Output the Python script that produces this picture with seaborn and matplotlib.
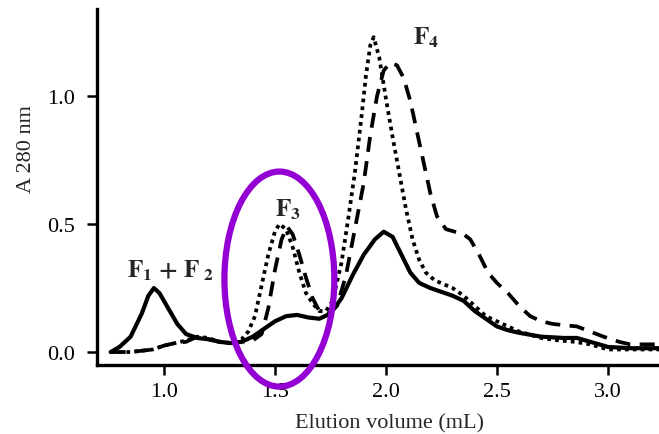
import matplotlib
matplotlib.use("Agg")
import matplotlib.pyplot as plt
from matplotlib.patches import Ellipse
import seaborn as sns

# Elution profiles (x in mL, y = A280)
solid_x = [0.76, 0.80, 0.85, 0.90, 0.93, 0.955, 0.98, 1.02, 1.06, 1.10, 1.15, 1.20,
           1.25, 1.30, 1.35, 1.40, 1.45, 1.50, 1.55, 1.60, 1.65, 1.70, 1.75, 1.80,
           1.85, 1.90, 1.95, 1.99, 2.03, 2.07, 2.11, 2.15, 2.20, 2.25, 2.30, 2.35,
           2.40, 2.45, 2.50, 2.55, 2.60, 2.70, 2.80, 2.86, 2.92, 3.00, 3.10, 3.23]
solid_y = [0.00, 0.02, 0.06, 0.15, 0.22, 0.25, 0.23, 0.17, 0.11, 0.07, 0.055, 0.05,
           0.04, 0.035, 0.04, 0.06, 0.09, 0.12, 0.14, 0.145, 0.135, 0.13, 0.15, 0.21,
           0.30, 0.38, 0.44, 0.47, 0.45, 0.38, 0.31, 0.27, 0.25, 0.235, 0.22, 0.20,
           0.16, 0.13, 0.10, 0.085, 0.075, 0.06, 0.055, 0.055, 0.04, 0.02, 0.015, 0.015]

dotted_x = [0.76, 0.85, 0.95, 1.00, 1.05, 1.10, 1.15, 1.20, 1.25, 1.30, 1.35, 1.38,
            1.41, 1.44, 1.47, 1.50, 1.52, 1.55, 1.58, 1.61, 1.64, 1.67, 1.70, 1.73,
            1.76, 1.80, 1.83, 1.86, 1.89, 1.91, 1.93, 1.945, 1.97, 2.00, 2.03, 2.06,
            2.09, 2.12, 2.15, 2.18, 2.22, 2.26, 2.30, 2.35, 2.40, 2.45, 2.50, 2.55,
            2.60, 2.70, 2.78, 2.85, 2.92, 3.00, 3.10, 3.23]
dotted_y = [0.00, 0.00, 0.01, 0.025, 0.035, 0.045, 0.06, 0.055, 0.04, 0.035, 0.05, 0.08,
            0.14, 0.26, 0.38, 0.47, 0.50, 0.48, 0.41, 0.31, 0.23, 0.19, 0.16, 0.16,
            0.20, 0.35, 0.52, 0.70, 0.92, 1.08, 1.20, 1.23, 1.15, 0.99, 0.84, 0.70,
            0.56, 0.44, 0.36, 0.31, 0.28, 0.265, 0.25, 0.22, 0.18, 0.14, 0.12, 0.10,
            0.08, 0.055, 0.045, 0.04, 0.03, 0.01, 0.01, 0.01]

dashed_x = [0.76, 0.85, 0.90, 0.95, 1.00, 1.05, 1.10, 1.15, 1.20, 1.25, 1.30, 1.35,
            1.40, 1.44, 1.47, 1.50, 1.53, 1.555, 1.58, 1.61, 1.64, 1.67, 1.70, 1.74,
            1.78, 1.82, 1.86, 1.90, 1.93, 1.96, 1.99, 2.02, 2.05, 2.08, 2.11, 2.14,
            2.17, 2.20, 2.23, 2.27, 2.31, 2.35, 2.38, 2.42, 2.46, 2.50, 2.55, 2.60,
            2.65, 2.70, 2.75, 2.80, 2.86, 2.92, 2.98, 3.05, 3.10, 3.23]
dashed_y = [0.00, 0.00, 0.005, 0.01, 0.025, 0.035, 0.04, 0.06, 0.05, 0.04, 0.035, 0.04,
            0.045, 0.07, 0.17, 0.32, 0.44, 0.49, 0.46, 0.38, 0.29, 0.21, 0.16, 0.15,
            0.18, 0.30, 0.48, 0.66, 0.85, 1.00, 1.10, 1.13, 1.12, 1.07, 0.98, 0.86,
            0.74, 0.62, 0.53, 0.48, 0.47, 0.46, 0.44, 0.38, 0.31, 0.27, 0.23, 0.18,
            0.14, 0.12, 0.11, 0.105, 0.10, 0.08, 0.06, 0.04, 0.03, 0.03]

x_ticks = [1.0, 1.5, 2.0, 2.5, 3.0]
y_ticks = [0.0, 0.5, 1.0]

sns.set_theme(style="ticks")
plt.rcParams["font.family"] = ["Liberation Serif", "DejaVu Serif"]
plt.rcParams["mathtext.fontset"] = "stix"

fig = plt.figure(figsize=(6.59, 4.35), dpi=100)
ax = fig.add_axes([0.147, 0.159, 0.853, 0.818])

sns.lineplot(x=solid_x, y=solid_y, ax=ax, color="black", lw=3.0, sort=False)
sns.lineplot(x=dotted_x, y=dotted_y, ax=ax, color="black", lw=2.7,
             linestyle=(0, (1, 1.1)), sort=False)
sns.lineplot(x=dashed_x, y=dashed_y, ax=ax, color="black", lw=2.7,
             linestyle=(0, (4, 2.5)), sort=False)

ax.set_xlim(0.698, 3.23)
ax.set_ylim(-0.05, 1.34)
ax.set_xticks(x_ticks)
ax.set_xticklabels([f"{v:.1f}" for v in x_ticks])
ax.set_yticks(y_ticks)
ax.set_yticklabels([f"{v:.1f}" for v in y_ticks])
ax.tick_params(direction="out", length=7, width=1.8, labelsize=16, colors="black")
ax.tick_params(axis="y", pad=9)
ax.tick_params(axis="x", pad=5)
for s in ["top", "right"]:
    ax.spines[s].set_visible(False)
for s in ["left", "bottom"]:
    ax.spines[s].set_linewidth(2.4)
    ax.spines[s].set_color("black")

ax.set_xlabel("Elution volume (mL)", fontsize=16)
ax.xaxis.set_label_coords(0.52, -0.136)
ax.set_ylabel("A 280 nm", fontsize=16)
ax.yaxis.set_label_coords(-0.108, 0.61)

ax.text(2.18, 1.23, r"$\mathbf{F}_\mathbf{4}$", fontsize=18, ha="center", va="center")
ax.text(1.56, 0.56, r"$\mathbf{F}_\mathbf{3}$", fontsize=18, ha="center", va="center")
ax.text(1.03, 0.32, r"$\mathbf{F}_\mathbf{1}\ \mathbf{+}\ \mathbf{F}_{\ \mathbf{2}}$",
        fontsize=18, ha="center", va="center")

ax.add_patch(Ellipse((1.52, 0.285), 0.495, 0.84, fill=False, edgecolor="#9400D3",
                     lw=4.5, clip_on=False, zorder=5))

fig.savefig("out.png", dpi=100)
